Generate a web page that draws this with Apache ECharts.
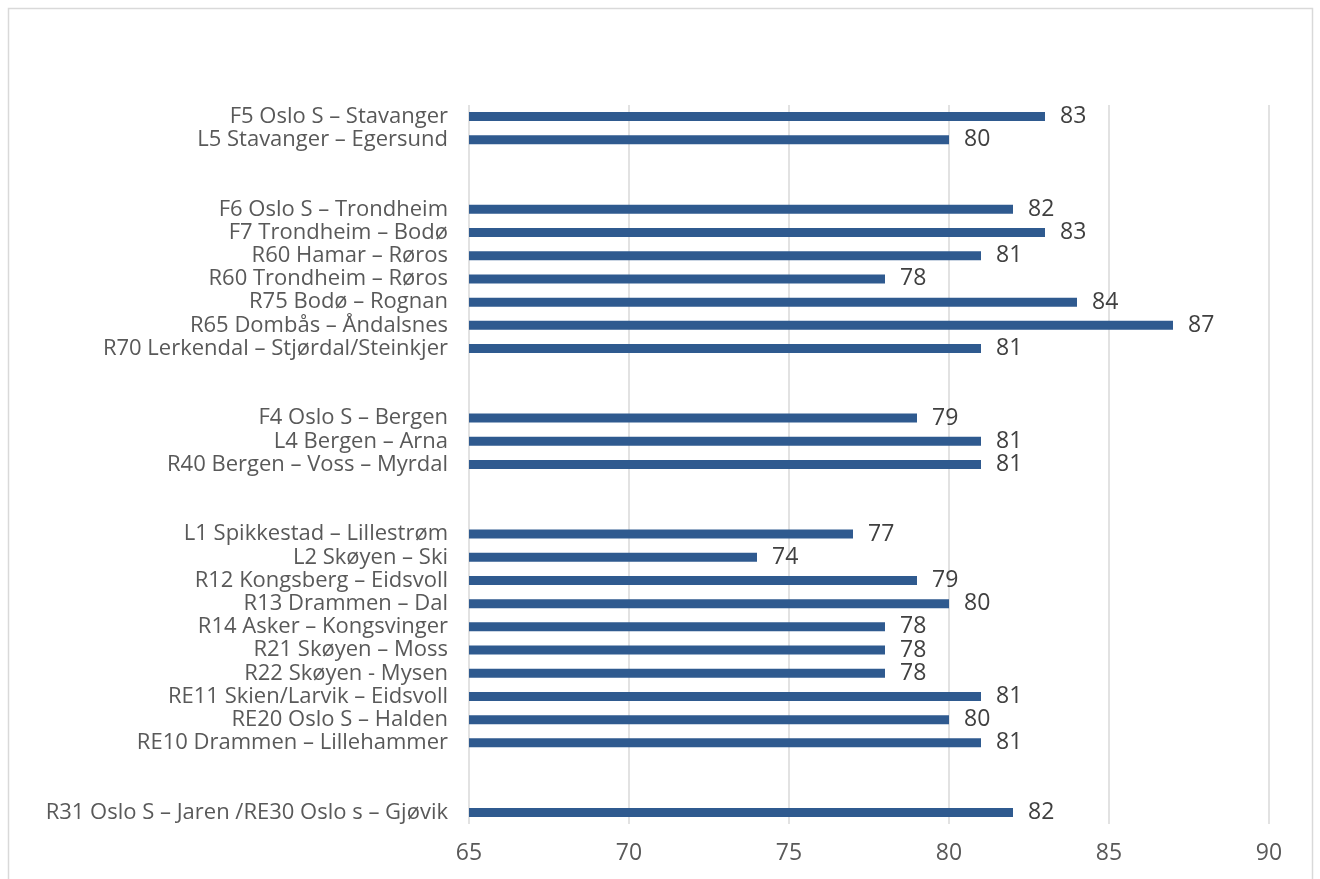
<!DOCTYPE html>
<html>
<head>
<meta charset="utf-8">
<script src="https://cdn.jsdelivr.net/npm/echarts@6/dist/echarts.min.js"></script>
<style>
html,body{margin:0;padding:0;background:#fff;}
#chart{width:1320px;height:879px;}
</style>
</head>
<body>
<div id="chart"></div>
<script>
const categories = [
  'F5 Oslo S – Stavanger',
  'L5 Stavanger – Egersund',
  ' ', '  ',
  'F6 Oslo S – Trondheim',
  'F7 Trondheim – Bodø',
  'R60 Hamar – Røros',
  'R60 Trondheim – Røros',
  'R75 Bodø – Rognan',
  'R65 Dombås – Åndalsnes',
  'R70 Lerkendal – Stjørdal/Steinkjer',
  '   ', '    ',
  'F4 Oslo S – Bergen',
  'L4 Bergen – Arna',
  'R40 Bergen – Voss – Myrdal',
  '     ', '      ',
  'L1 Spikkestad – Lillestrøm',
  'L2 Skøyen – Ski',
  'R12 Kongsberg – Eidsvoll',
  'R13 Drammen – Dal',
  'R14 Asker – Kongsvinger',
  'R21 Skøyen – Moss',
  'R22 Skøyen - Mysen',
  'RE11 Skien/Larvik – Eidsvoll',
  'RE20 Oslo S – Halden',
  'RE10 Drammen – Lillehammer',
  '       ', '        ',
  'R31 Oslo S – Jaren /RE30 Oslo s – Gjøvik'
];
const values = [
  83, 80,
  null, null,
  82, 83, 81, 78, 84, 87, 81,
  null, null,
  79, 81, 81,
  null, null,
  77, 74, 79, 80, 78, 78, 78, 81, 80, 81,
  null, null,
  82
];
const xTicks = { min: 65, max: 90, interval: 5 };

const FONT = '"Open Sans", "Liberation Sans", Arial, sans-serif';
const chart = echarts.init(document.getElementById('chart'));
chart.setOption({
  animation: false,
  backgroundColor: '#fff',
  graphic: [{
    type: 'rect',
    shape: { x: 8.5, y: 8.5, width: 1304, height: 885 },
    style: { fill: 'none', stroke: '#d9d9d9', lineWidth: 1.5 },
    silent: true
  }],
  grid: { left: 469, right: 51, top: 105, bottom: 55, containLabel: false },
  xAxis: {
    type: 'value',
    min: xTicks.min, max: xTicks.max, interval: xTicks.interval,
    axisLine: { show: false },
    axisTick: { show: false },
    splitLine: { show: true, lineStyle: { color: '#d9d9d9', width: 1.5 } },
    axisLabel: { color: '#595959', fontSize: 23, margin: 18, fontFamily: FONT }
  },
  yAxis: {
    type: 'category',
    data: categories,
    inverse: true,
    axisLine: { show: false },
    axisTick: { show: false },
    axisLabel: { color: '#595959', fontSize: 22, margin: 21, fontFamily: FONT, interval: 0, padding: [4, 0, 0, 0] }
  },
  series: [{
    type: 'bar',
    data: values,
    barWidth: 9,
    itemStyle: { color: '#2f5a8f' },
    label: {
      show: true,
      position: 'right',
      distance: 15,
      color: '#404040',
      fontSize: 23,
      fontFamily: FONT
    }
  }]
});
</script>
</body>
</html>
